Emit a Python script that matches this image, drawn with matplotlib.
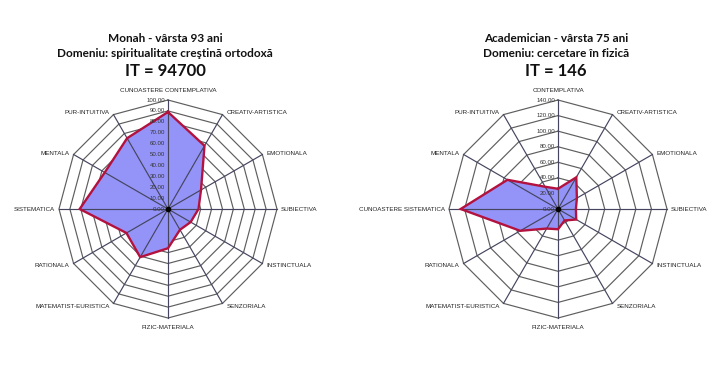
import numpy as np
from matplotlib import pyplot as plt

# axes, clockwise from the top
cats_left = ["CUNOASTERE CONTEMPLATIVA", "CREATIV-ARTISTICA", "EMOTIONALA", "SUBIECTIVA",
             "INSTINCTUALA", "SENZORIALA", "FIZIC-MATERIALA", "MATEMATIST-EURISTICA",
             "RATIONALA", "SISTEMATICA", "MENTALA", "PUR-INTUITIVA"]
cats_right = ["CONTEMPLATIVA", "CREATIV-ARTISTICA", "EMOTIONALA", "SUBIECTIVA",
              "INSTINCTUALA", "SENZORIALA", "FIZIC-MATERIALA", "MATEMATIST-EURISTICA",
              "RATIONALA", "CUNOASTERE SISTEMATICA", "MENTALA", "PUR-INTUITIVA"]

vals_monah = [89, 67, 35, 28, 24, 22, 36, 51, 44, 81, 67, 75]
vals_academ = [26, 47, 28, 23, 27, 17, 26, 29, 56, 125, 75, 33]

titles_left = ["Monah - vârsta 93 ani", "Domeniu: spiritualitate creştină ortodoxă", "IT = 94700"]
titles_right = ["Academician - vârsta 75 ani", "Domeniu: cercetare în fizică", "IT = 146"]

FILL = "#9494f8"
EDGE = "#b3123e"

fig = plt.figure(figsize=(7.2, 3.67), dpi=100)


def radar(rect, cats, vals, rmax, step):
    ax = fig.add_axes(rect, projection="polar")
    ax.set_theta_zero_location("N")
    ax.set_theta_direction(-1)
    ax.set_ylim(0, rmax)
    ax.grid(False)
    ax.set_xticks([])
    ax.set_yticks([])
    ax.spines["polar"].set_visible(False)
    ax.patch.set_alpha(0)

    n = len(cats)
    theta = np.linspace(0, 2 * np.pi, n, endpoint=False)
    closed = np.append(theta, theta[0])
    levels = np.arange(step, rmax + step / 2, step)
    for lvl in levels:
        ax.plot(closed, np.full(n + 1, lvl), color="#5e5e5e", lw=0.85, zorder=1, clip_on=False)

    v = np.append(vals, vals[0])
    ax.fill(closed, v, color=FILL, zorder=2, lw=0)
    for t in theta:
        ax.plot([t, t], [0, rmax], color="#45455f", lw=0.85, zorder=3, clip_on=False)
    ax.plot(closed, v, color=EDGE, lw=1.7, zorder=4, solid_joinstyle="miter")
    ax.plot([0], [0], "o", ms=3, color="black", zorder=5)

    for lvl in np.append(0, levels):
        ax.annotate(f"{lvl:.2f}", xy=(0, lvl), xytext=(-3, 0), textcoords="offset pixels",
                    ha="right", va="center", fontsize=4.4, color="#333333",
                    family="Liberation Sans", zorder=6)

    for t, name in zip(theta, cats):
        s, c = np.sin(t), np.cos(t)
        if abs(s) < 0.01:
            dx, ha = 0, "center"
            dy = 10 if c > 0 else -9
        else:
            dx = 4 if s > 0 else -4
            ha = "left" if s > 0 else "right"
            dy = 3 * c
        ax.annotate(name, xy=(t, rmax), xytext=(dx, dy), textcoords="offset pixels",
                    ha=ha, va="center", fontsize=4.5, color="#222222",
                    family="Liberation Sans", annotation_clip=False)
    return ax


radar([0.0819, 0.1335, 0.3028, 0.594], cats_left, vals_monah, 100, 10)
radar([0.6236, 0.1335, 0.3028, 0.594], cats_right, vals_academ, 140, 20)

for xc, lines in [(165 / 720, titles_left), (556 / 720, titles_right)]:
    fig.text(xc, 1 - 38 / 367, lines[0], ha="center", va="center", fontsize=8.5,
             fontweight="bold", family="Lato", color="#111111")
    fig.text(xc, 1 - 53.5 / 367, lines[1], ha="center", va="center", fontsize=8.5,
             fontweight="bold", family="Lato", color="#111111")
    fig.text(xc, 1 - 71 / 367, lines[2], ha="center", va="center", fontsize=12,
             fontweight="bold", family="Lato", color="#111111")

fig.savefig("out.png", dpi=100)
